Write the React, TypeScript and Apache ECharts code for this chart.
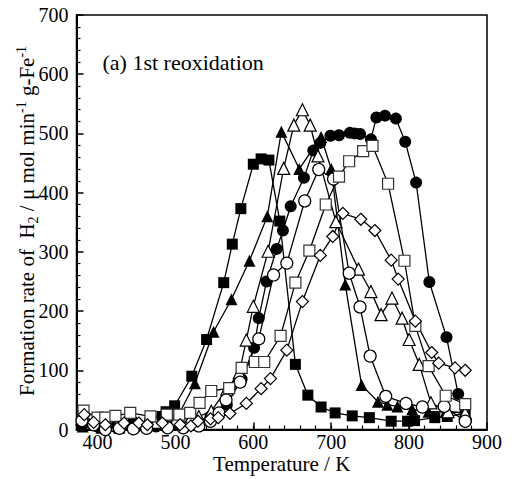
import { useEffect, useRef } from "react";
import * as echarts from "echarts";

// Axis ticks (temperature in K, rate in µmol min-1 g-Fe-1)
const xMajorTicks = [400, 500, 600, 700, 800, 900];
const xMinorTicks = [380, 400, 420, 440, 460, 480, 500, 520, 540, 560, 580, 600, 620, 640, 660, 680, 700, 720, 740, 760, 780, 800, 820, 840, 860, 880];
const yMax = 700;
const yStep = 100;

// Series: [temperature / K, formation rate]
const filledSquare: [number, number][] = [
  [380, 8], [404, 5], [425, 5], [446, 10], [467, 11], [483, 22], [488, 30], [499, 40],
  [521, 90], [540, 152], [562, 248], [573, 313], [584, 373], [600, 448], [610, 457],
  [620, 455], [634, 352], [654, 110], [670, 58], [687, 38], [705, 28], [727, 23],
  [749, 20], [777, 14], [798, 14], [807, 15], [833, 20], [849, 22], [872, 27],
];

const filledTriangle: [number, number][] = [
  [381, 5], [405, 3], [428, 3], [455, 8], [480, 14], [503, 22], [525, 78], [549, 165],
  [572, 220], [595, 285], [618, 360], [636, 503], [659, 440], [687, 494], [700, 440],
  [718, 245], [739, 75], [760, 47], [772, 42], [785, 39], [804, 34], [825, 30],
  [847, 30], [872, 28],
];

const filledCircle: [number, number][] = [
  [380, 12], [400, 5], [425, 3], [450, 5], [475, 5], [500, 8], [520, 10], [545, 22],
  [566, 42], [585, 85], [601, 138], [607, 188], [617, 250], [630, 305], [638, 336],
  [648, 377], [665, 425], [677, 471], [686, 484], [699, 496], [710, 497], [724, 501],
  [730, 500], [737, 499], [751, 490], [758, 527], [769, 530], [783, 525], [795, 486],
  [809, 417], [826, 249], [848, 156], [863, 60], [873, 15],
];

const openTriangle: [number, number][] = [
  [380, 18], [400, 12], [425, 8], [450, 10], [475, 12], [500, 15], [520, 20], [530, 22],
  [546, 31], [566, 68], [582, 96], [591, 151], [600, 208], [619, 301], [639, 441],
  [652, 514], [663, 540], [673, 514], [683, 462], [706, 351], [735, 271], [751, 233],
  [764, 194], [778, 222], [791, 188], [800, 152], [813, 110], [828, 45], [850, 30],
  [872, 28],
];

const openCircle: [number, number][] = [
  [380, 15], [395, 8], [410, 0], [428, 2], [446, 1], [463, 2], [490, 3], [510, 3],
  [530, 6], [545, 14], [556, 28], [565, 50], [583, 80], [607, 153], [626, 261],
  [643, 281], [666, 386], [684, 439], [703, 423], [723, 264], [737, 207], [750, 124],
  [770, 56], [796, 44], [817, 38], [845, 39], [872, 14],
];

const openSquare: [number, number][] = [
  [382, 32], [400, 20], [410, 20], [423, 23], [442, 28], [468, 22], [489, 25], [505, 25],
  [519, 28], [531, 45], [546, 65], [569, 70], [585, 104], [602, 114], [614, 114],
  [635, 158], [654, 248], [672, 302], [693, 380], [710, 427], [723, 453], [741, 470],
  [753, 479], [773, 415], [794, 285], [808, 175], [825, 107], [847, 57], [872, 43],
];

const openDiamond: [number, number][] = [
  [383, 25], [395, 12], [410, 8], [434, 11], [453, 11], [464, 8], [483, 11], [506, 8],
  [520, 6], [529, 14], [545, 18], [555, 20], [570, 27], [591, 44], [610, 69], [622, 86],
  [643, 134], [663, 216], [686, 294], [702, 326], [715, 365], [738, 355], [756, 336],
  [777, 286], [786, 254], [808, 183], [829, 130], [838, 112], [859, 104], [872, 100],
];

const SERIF = '"Liberation Serif", "Times New Roman", "DejaVu Serif", serif';

function lineSeries(
  name: string,
  data: [number, number][],
  symbol: string,
  symbolSize: number,
  filled: boolean,
  edge = "#000",
) {
  return {
    type: "line",
    name,
    data,
    symbol,
    symbolSize,
    showSymbol: true,
    xAxisIndex: 0,
    yAxisIndex: 0,
    lineStyle: { color: "#000", width: 1.3 },
    itemStyle: filled
      ? { color: "#000", borderColor: "#000", borderWidth: 0 }
      : { color: "#fff", borderColor: edge, borderWidth: 1.2 },
    emphasis: { disabled: true },
  };
}

export default function App() {
  const ref = useRef<HTMLDivElement>(null);

  useEffect(() => {
    const chart = echarts.init(ref.current!, null, { renderer: "svg" });
    chart.setOption({
      animation: false,
      backgroundColor: "#fff",
      grid: {
        left: 76.5,
        right: 25,
        top: 15,
        bottom: 49.5,
        show: true,
        borderColor: "#000",
        borderWidth: 1.5,
        backgroundColor: "transparent",
      },
      xAxis: [
        {
          type: "value",
          min: 373,
          max: 900,
          position: "bottom",
          axisLine: { show: true, lineStyle: { color: "#000", width: 2 } },
          axisTick: {
            show: true,
            inside: true,
            length: 7,
            customValues: xMajorTicks,
            lineStyle: { color: "#000", width: 1.5 },
          },
          axisLabel: {
            customValues: xMajorTicks,
            color: "#000",
            fontSize: 20,
            lineHeight: 16,
            fontFamily: SERIF,
            margin: 4,
          },
          splitLine: { show: false },
        },
        {
          type: "value",
          min: 373,
          max: 900,
          position: "bottom",
          axisLine: { show: false },
          axisTick: {
            show: true,
            inside: true,
            length: 4,
            customValues: xMinorTicks,
            lineStyle: { color: "#000", width: 1.2 },
          },
          axisLabel: { show: false },
          splitLine: { show: false },
        },
      ],
      yAxis: {
        type: "value",
        min: 0,
        max: yMax,
        interval: yStep,
        axisLine: { show: true, lineStyle: { color: "#000", width: 2 } },
        axisTick: { show: true, inside: true, length: 7, lineStyle: { color: "#000", width: 1.5 } },
        minorTick: { show: true, splitNumber: 5, length: 4, lineStyle: { color: "#000", width: 1.2 } },
        axisLabel: { color: "#000", fontSize: 20, fontFamily: SERIF, margin: 8 },
        splitLine: { show: false },
        minorSplitLine: { show: false },
      },
      graphic: [
        {
          type: "text",
          left: 102.5,
          top: 51,
          style: { text: "(a) 1st reoxidation", font: `22px ${SERIF}`, fill: "#000" },
        },
        {
          type: "text",
          x: 281.7,
          y: 464,
          style: {
            text: "Temperature / K",
            font: `21px ${SERIF}`,
            fill: "#000",
            align: "center",
            verticalAlign: "middle",
            lineHeight: 14,
          },
        },
        {
          type: "text",
          x: 27,
          y: 221,
          rotation: Math.PI / 2,
          style: {
            text: "Formation rate of  H{sub|2} / μ mol min{sup|-1} g-Fe{sup|-1}",
            font: `21px ${SERIF}`,
            fill: "#000",
            align: "center",
            verticalAlign: "middle",
            lineHeight: 26,
            rich: {
              sub: { fontSize: 14, fontFamily: SERIF, lineHeight: 14, verticalAlign: "bottom", fill: "#000" },
              sup: { fontSize: 14, fontFamily: SERIF, lineHeight: 14, verticalAlign: "top", fill: "#000" },
            },
          },
        },
      ],
      series: [
        lineSeries("filled square", filledSquare, "rect", 11, true),
        lineSeries("filled triangle", filledTriangle, "triangle", 12, true),
        lineSeries("filled circle", filledCircle, "circle", 12, true),
        lineSeries("open triangle", openTriangle, "triangle", 12, false),
        lineSeries("open circle", openCircle, "circle", 12, false),
        lineSeries("open square", openSquare, "rect", 11, false, "#333"),
        lineSeries("open diamond", openDiamond, "diamond", 12, false),
      ],
    });
    return () => chart.dispose();
  }, []);

  return (
    <div
      ref={ref}
      style={{ position: "absolute", left: 0, top: 0, width: 512, height: 479 }}
    />
  );
}
